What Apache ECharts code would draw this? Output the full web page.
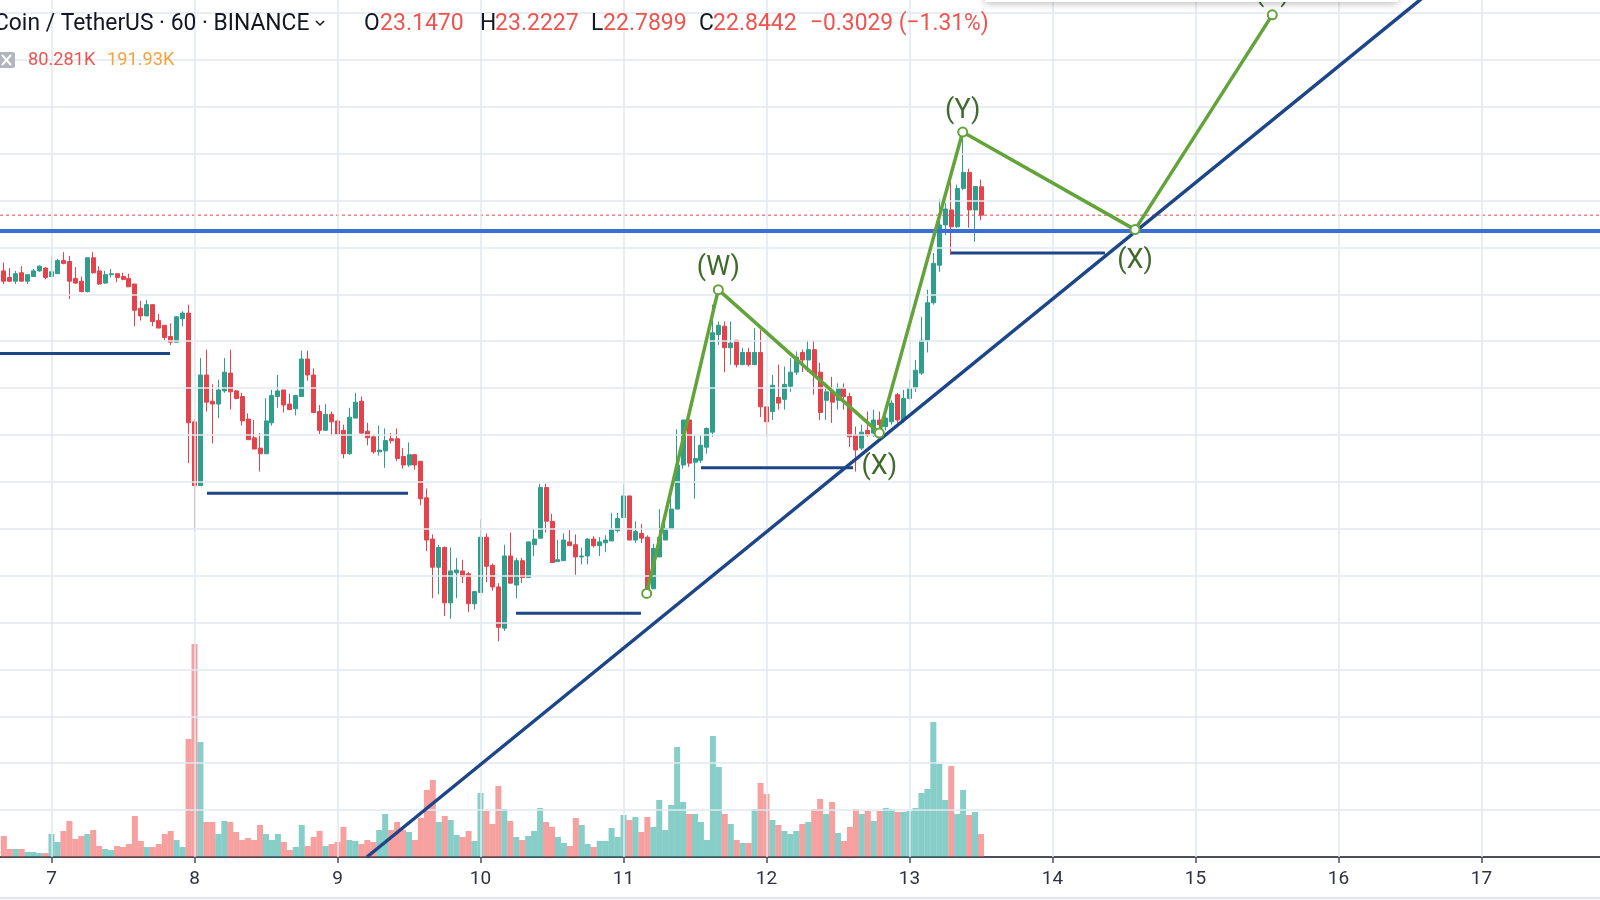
<!DOCTYPE html>
<html><head><meta charset="utf-8">
<script src="https://cdn.jsdelivr.net/npm/echarts@6/dist/echarts.min.js"></script>
<style>html,body{margin:0;padding:0;background:#fff;overflow:hidden}#c{width:1600px;height:900px}</style>
</head><body><div id="c"></div>
<script>
// ---- data (hourly candles, BINANCE 60) ----
const START_HOUR = 6 * 24 + 16; // first visible candle: day 6, 16:00
const opens = [22.25,22.18,22.14,22.23,22.14,22.19,22.25,22.28,22.19,22.22,
 22.36,22.35,22.17,22.14,22.03,22.39,22.25,22.12,22.21,22.22,
 22.19,22.17,22.11,21.85,21.77,21.89,21.72,21.67,21.55,21.49,
 21.74,21.80,20.64,19.96,21.14,20.86,20.83,20.97,21.16,20.97,
 20.91,20.67,20.47,20.36,20.30,20.63,20.91,20.98,20.83,20.78,
 20.91,21.31,21.14,20.75,20.55,20.72,20.65,20.55,20.30,20.68,
 20.86,20.54,20.48,20.32,20.33,20.46,20.46,20.27,20.18,20.29,
 20.22,19.83,19.39,19.09,19.30,18.71,19.03,19.05,19.02,18.70,
 18.82,19.41,19.11,18.88,18.44,19.21,18.90,19.16,18.98,19.33,
 19.40,19.94,19.58,19.15,19.16,19.36,19.33,19.20,19.21,19.39,
 19.32,19.35,19.37,19.48,19.62,19.85,19.38,19.45,19.41,18.86,
 19.20,19.38,19.50,19.71,20.18,20.66,20.21,20.23,20.37,20.53,
 21.57,21.66,21.43,21.51,21.25,21.38,21.25,21.38,20.80,20.75,
 20.90,20.88,21.02,21.17,21.38,21.30,21.41,21.17,20.87,20.96,
 20.87,21.00,20.91,20.50,20.36,20.55,20.52,20.66,20.59,20.64,
 20.93,20.66,20.89,21.00,21.16,21.51,21.91,22.31,22.74,22.90,
 22.72,23.13,23.30,22.90,23.147];
const closes = [22.14,22.14,22.22,22.14,22.21,22.25,22.30,22.18,22.24,22.36,
 22.33,22.14,22.12,22.03,22.39,22.23,22.11,22.21,22.22,22.18,
 22.16,22.08,21.83,21.77,21.89,21.71,21.64,21.54,21.49,21.76,
 21.80,20.63,19.96,21.14,20.85,20.83,20.98,21.17,20.96,20.89,
 20.65,20.45,20.35,20.30,20.65,20.92,20.97,20.82,20.77,20.92,
 21.31,21.14,20.74,20.55,20.72,20.64,20.51,20.30,20.69,20.85,
 20.52,20.47,20.32,20.34,20.44,20.44,20.25,20.18,20.29,20.18,
 19.82,19.38,19.09,19.30,18.71,19.05,19.06,18.99,18.70,18.83,
 19.41,19.10,18.88,18.45,19.21,18.92,19.16,18.98,19.36,19.39,
 19.94,19.58,19.14,19.17,19.38,19.32,19.20,19.21,19.39,19.32,
 19.36,19.38,19.49,19.61,19.85,19.38,19.47,19.40,18.86,19.29,
 19.41,19.50,19.71,20.18,20.66,20.20,20.25,20.39,20.57,21.59,
 21.67,21.43,21.48,21.25,21.38,21.25,21.38,20.80,20.64,21.03,
 20.84,21.04,21.17,21.33,21.30,21.41,21.14,20.74,20.96,20.85,
 21.00,20.91,20.48,20.34,20.53,20.50,20.66,20.61,20.68,20.84,
 20.66,20.89,21.00,21.19,21.51,21.91,22.33,22.74,22.91,22.72,
 23.13,23.30,22.90,23.15,22.8442];
const lows = [22.11,22.13,22.11,22.14,22.11,22.19,22.24,22.16,22.18,22.22,
 22.32,21.95,22.11,22.02,22.02,22.22,22.10,22.11,22.18,22.13,
 22.15,22.08,21.66,21.72,21.77,21.66,21.64,21.51,21.46,21.49,
 21.66,20.20,19.48,19.96,20.75,20.41,20.68,20.95,20.77,20.88,
 20.60,20.45,20.35,20.11,20.30,20.60,20.79,20.74,20.77,20.71,
 20.91,21.08,20.74,20.51,20.55,20.49,20.49,20.25,20.29,20.68,
 20.51,20.39,20.30,20.28,20.15,20.41,20.22,20.14,20.16,20.13,
 19.75,19.26,18.76,18.80,18.57,18.54,18.76,18.92,18.61,18.64,
 18.82,18.93,18.84,18.30,18.41,18.92,18.76,18.92,18.98,19.21,
 19.40,19.46,19.14,19.15,19.16,19.32,19.01,19.12,19.12,19.30,
 19.21,19.25,19.37,19.46,19.62,19.38,19.35,19.35,18.86,18.86,
 19.20,19.38,19.50,19.71,20.14,20.16,19.82,20.20,20.30,20.48,
 21.46,21.17,21.25,21.22,21.25,21.23,21.25,20.69,20.48,20.66,
 20.77,20.77,20.96,21.14,21.17,21.17,20.93,20.66,20.66,20.63,
 20.77,20.77,20.37,20.11,20.34,20.48,20.48,20.53,20.55,20.61,
 20.63,20.63,20.87,20.96,21.14,21.38,21.89,22.24,22.63,22.42,
 22.71,23.11,22.71,22.56,22.7899];
const highs = [22.34,22.28,22.25,22.30,22.21,22.27,22.31,22.29,22.41,22.38,
 22.45,22.41,22.29,22.19,22.39,22.45,22.30,22.25,22.27,22.22,
 22.23,22.22,22.11,21.93,21.94,21.89,21.79,21.67,21.69,21.77,
 21.82,21.89,20.67,21.32,21.41,21.04,21.09,21.32,21.41,20.98,
 20.95,20.73,20.66,20.52,20.89,20.98,21.14,20.98,20.94,20.93,
 21.40,21.40,21.21,20.82,20.83,20.75,20.68,20.61,20.79,20.95,
 20.91,20.63,20.50,20.60,20.57,20.52,20.57,20.36,20.42,20.30,
 20.22,19.93,19.44,19.33,19.31,19.30,19.19,19.17,19.04,18.83,
 19.60,19.45,19.13,18.92,19.33,19.46,19.19,19.19,19.36,19.50,
 19.98,19.98,19.66,19.38,19.45,19.49,19.44,19.30,19.40,19.42,
 19.41,19.43,19.67,19.67,19.98,19.85,19.58,19.55,19.43,19.34,
 19.71,19.66,19.84,20.56,20.66,20.66,20.50,20.50,20.58,21.89,
 21.71,21.71,21.71,21.51,21.43,21.43,21.64,21.62,20.80,21.14,
 21.25,21.23,21.32,21.39,21.41,21.51,21.51,21.27,21.03,21.12,
 21.05,21.05,20.95,20.59,20.61,20.75,20.77,20.75,20.82,20.87,
 20.95,20.98,21.09,21.30,21.76,22.05,22.44,23.01,22.97,23.20,
 23.17,23.67,23.34,23.15,23.2227];
// volume in thousands
const volumes = [73.5,28,28,28,17.5,17.5,14,14,80.5,52.5,
 91,126,63,73.5,80.5,94.5,38.5,28,24.5,38.5,
 35,45.5,143.5,56,35,35,45.5,80.5,91,59.5,
 35,413,745.5,402.5,122.5,122.5,80.5,126,122.5,87.5,
 59.5,66.5,59.5,112,80.5,59.5,80.5,52.5,24.5,35,
 112,38.5,70,91,38.5,45.5,52.5,105,59.5,56,
 45.5,59.5,52.5,94.5,150.5,94.5,122.5,94.5,87.5,59.5,
 136.5,234.5,269.5,122.5,143.5,129.5,77,70,91,56,
 224,161,115.5,248.5,168,126,70,59.5,73.5,91,
 171.5,122.5,105,70,49,38.5,136.5,112,45.5,35,
 56,56,101.5,70,147,129.5,140,87.5,140,105,
 199.5,94.5,182,385,192.5,150.5,150.5,122.5,59.5,423.5,
 315,150.5,115.5,59.5,49,49,168,259,220.5,129.5,
 112,91,80.5,91,115.5,122.5,168,203,150.5,192.5,
 84,56,105,168,150.5,161,126,161,171.5,168,
 157.5,157.5,161,171.5,224,238,472.5,325.5,199.5,318.5,
 150.5,234.5,147,157.5,80.281];
const dayLabels = [7,8,9,10,11,12,13,14,15,16,17];
const priceLevels = [16.5,17,17.5,18,18.5,19,19.5,20,20.5,21,21.5,22,22.5,23,23.5,24,24.5,25];
const lastClose = 22.8442;
const resistanceLevel = 22.675;
// support segments: [fromDay, toDay, price]
const supports = [[6.6,7.829,21.37],[8.087,9.493,19.88],[10.248,11.122,18.60],[11.542,12.605,20.15],[13.290,14.367,22.44]];
const trendLine = [[9.206,16.0],[16.861,25.5]];
const waveDays = [11.162,11.663,12.789,13.372,14.577,15.537];
const wavePrices = [18.81,22.05,20.52,23.73,22.69,24.98];
const waveLabels = ['','(W)','(X)','(Y)','(X)','(Z)'];
const headerSymbol = 'Coin / TetherUS';
const headerOHLC = {O:'23.1470',H:'23.2227',L:'22.7899',C:'22.8442'};
const headerChange = '\u22120.3029 (\u22121.31%)';
const volLegend = ['80.281K','191.93K'];

// ---- view window ----
const X_MIN = 6.63986, X_MAX = 17.82867;   // visible days
const P_MIN = 16.0, P_MAX = 25.1385;       // visible price range
const V_MAX = 2999.5;                      // volume scale (K)

const UP = '#2f9e8d', DOWN = '#e5434b';
const UPV = 'rgba(38,166,154,0.55)', DOWNV = 'rgba(239,83,80,0.55)';
const GRIDC = '#e1e8ef';
const xs = opens.map((_, i) => (START_HOUR + i) / 24);
const candleData = opens.map((o, i) => [xs[i], o, closes[i], lows[i], highs[i]]);
const volData = volumes.map((v, i) => ({value: [xs[i], v], itemStyle: {color: closes[i] >= opens[i] ? UPV : DOWNV}}));

const series = [
  {type:'line', data:[[X_MIN, P_MIN]], symbol:'none', z:0, silent:true,
   markLine:{silent:true, symbol:['none','none'], animation:false, label:{show:false},
     lineStyle:{type:'solid', color:GRIDC, width:1.5},
     data: dayLabels.map(d => ({xAxis:d})).concat(priceLevels.map(p => ({yAxis:p})))}},
  {type:'bar', xAxisIndex:0, yAxisIndex:1, data: volData, barWidth: 6, z: 1, silent: true},
  {type:'candlestick', data: candleData, encode:{x:0, y:[1,2,3,4]}, barWidth: 4.5, z: 3,
   itemStyle:{color: UP, color0: DOWN, borderColor: UP, borderColor0: DOWN, borderWidth: 1}},
  {type:'line', data:[[X_MIN,lastClose],[X_MAX,lastClose]], symbol:'none', z: 4,
   lineStyle:{color:'#e8434b', width:1, type:[3,3]}},
  {type:'line', data:[[X_MIN,resistanceLevel],[X_MAX,resistanceLevel]], symbol:'none', z: 5,
   lineStyle:{color:'#3c6fd6', width:4}},
  {type:'line', data: trendLine, symbol:'none', z: 6, lineStyle:{color:'#1d4689', width:3.5}}
];
supports.forEach(s => series.push({type:'line', data:[[s[0],s[2]],[s[1],s[2]]], symbol:'none', z: 6,
  lineStyle:{color:'#1d4689', width:3}}));
const waveData = waveDays.map((d, i) => {
  const item = {value:[d, wavePrices[i]]};
  if (waveLabels[i]) {
    const below = waveLabels[i] === '(X)';
    item.label = {show:true, formatter: waveLabels[i], position: below ? 'bottom' : 'top',
      distance: below ? (i === 2 ? 15 : 13) : 2};
  }
  return item;
});
series.push({type:'line', data: waveData, z: 7, symbol:'emptyCircle', symbolSize: 9,
  lineStyle:{color:'#62a43a', width:3.5}, itemStyle:{color:'#62a43a', borderWidth:2},
  label:{color:'#3f6a2c', fontSize:27, fontFamily:'Roboto'}});

const FONT = 'Roboto';
function txt(x, y, text, fill, size, sx) {
  return {type:'text', x, y, scaleX: sx || 1, z: 100,
    style:{text, fill, font: size + 'px ' + FONT, verticalAlign:'middle', align:'left'}};
}
const graphics = [
  {type:'rect', z: 99, shape:{x:985, y:-40, width:413, height:42},
   style:{fill:'#fff', shadowBlur:8, shadowColor:'rgba(0,0,0,0.3)', shadowOffsetY:1}},
  txt(-6, 24, headerSymbol + ' \u00b7 60 \u00b7 BINANCE', '#131722', 24, 0.95),
  {type:'polyline', z:100, shape:{points:[[316,21],[320,25],[324,21]]}, style:{stroke:'#131722', lineWidth:1.5, fill:null}},
  txt(364, 24, 'O', '#131722', 24, 0.95), txt(380, 24, headerOHLC.O, '#ef5350', 24, 0.96),
  txt(480, 24, 'H', '#131722', 24, 0.95), txt(495, 24, headerOHLC.H, '#ef5350', 24, 0.96),
  txt(591, 24, 'L', '#131722', 24, 0.95), txt(603, 24, headerOHLC.L, '#ef5350', 24, 0.96),
  txt(699, 24, 'C', '#131722', 24, 0.95), txt(713, 24, headerOHLC.C, '#ef5350', 24, 0.96),
  txt(810, 24, headerChange, '#ef5350', 24, 0.95),
  {type:'rect', z:100, shape:{x:-3, y:52, width:18, height:16, r:2}, style:{fill:'#b2b5be'}},
  {type:'line', z:101, shape:{x1:2, y1:55, x2:11, y2:65}, style:{stroke:'#fff', lineWidth:2}},
  {type:'line', z:101, shape:{x1:11, y1:55, x2:2, y2:65}, style:{stroke:'#fff', lineWidth:2}},
  txt(28, 60, volLegend[0], '#ef5350', 18, 1.01),
  txt(107, 60, volLegend[1], '#f7a23b', 18, 1.01),
  {type:'line', z:100, shape:{x1:0, y1:898, x2:1600, y2:898}, style:{stroke:'#e0e3eb', lineWidth:2}}
];

const chart = echarts.init(document.getElementById('c'), null, {renderer:'canvas'});
chart.setOption({
  animation: false,
  backgroundColor: '#ffffff',
  grid: {left: 0, right: 0, top: 0, bottom: 43, containLabel: false},
  xAxis: {type:'value', min: X_MIN, max: X_MAX,
    axisLine:{show:true, onZero:false, lineStyle:{color:'#4a4e5a', width:2}},
    axisTick:{show:true, length:6, customValues: dayLabels, lineStyle:{color:'#4a4e5a', width:1.5}},
    axisLabel:{color:'#2f3241', fontSize:19, margin:13, fontFamily: FONT, customValues: dayLabels,
      formatter: v => String(Math.round(v))},
    splitLine:{show:false}},
  yAxis: [
    {type:'value', min:P_MIN, max:P_MAX, axisLine:{show:false}, axisTick:{show:false},
     axisLabel:{show:false}, splitLine:{show:false}},
    {type:'value', min:0, max:V_MAX, show:false, splitLine:{show:false}}
  ],
  series,
  graphic: graphics
});
</script></body></html>
